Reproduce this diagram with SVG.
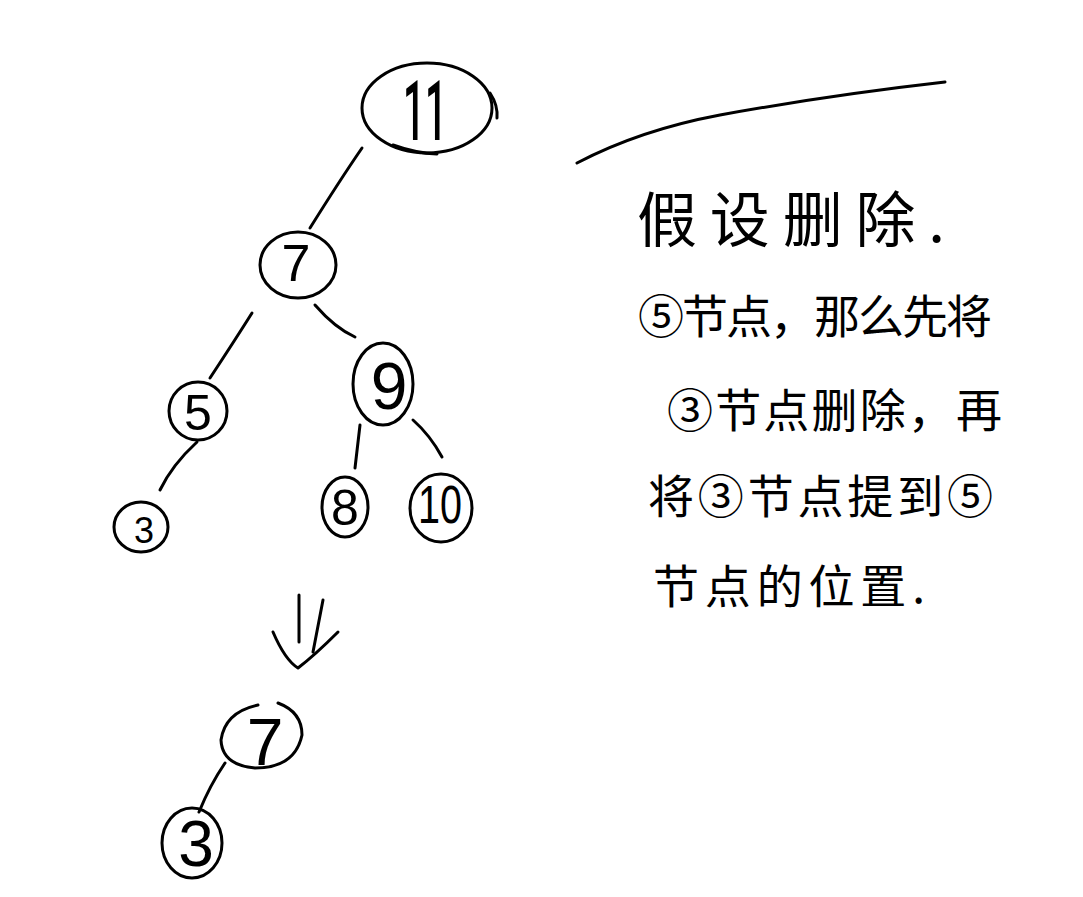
<svg xmlns="http://www.w3.org/2000/svg" width="1083" height="897" viewBox="0 0 1083 897">
<style>
.s{fill:none;stroke:#000;stroke-width:3;stroke-linecap:round;stroke-linejoin:round}
.d{font-family:"Liberation Sans",Arial,sans-serif;fill:#000;text-anchor:middle}
.t{font-family:"Noto Sans CJK SC","Noto Sans",sans-serif;fill:#000;font-size:46px}
</style>
<rect width="1083" height="897" fill="#fff"/>
<g id="connectors">
<path class="s" d="M362,148 Q340,180 310,228"/>
<path class="s" d="M252,313 Q235,340 210,378"/>
<path class="s" d="M315,305 Q335,328 355,337"/>
<path class="s" d="M197,442 Q172,465 160,490"/>
<path class="s" d="M360,425 Q357,450 355,468"/>
<path class="s" d="M413,420 Q430,435 442,457"/>
<path class="s" d="M225,763 Q210,785 199,812"/>
</g>
<g id="node-11">
<ellipse class="s" cx="427" cy="108" rx="65" ry="45"/>
<path class="s" d="M490,93 Q498,105 497,118"/>
<path class="s" d="M393,145 Q415,153 437,154"/>
<text class="d" x="425" y="140" style="font-family:Roboto,sans-serif;font-weight:500;font-size:84px" textLength="44" lengthAdjust="spacingAndGlyphs">11</text>
</g>
<g id="node-7">
<ellipse class="s" cx="298" cy="265" rx="38" ry="33"/>
<text class="d" x="296" y="281" font-size="52">7</text>
</g>
<g id="node-5">
<ellipse class="s" cx="198" cy="411" rx="29" ry="29"/>
<text class="d" x="198" y="430" font-size="50">5</text>
</g>
<g id="node-9">
<ellipse class="s" cx="383" cy="384" rx="30" ry="41"/>
<text class="d" x="389" y="409" font-size="66">9</text>
</g>
<g id="node-3">
<ellipse class="s" cx="141" cy="527" rx="27" ry="25"/>
<text class="d" x="144" y="543" font-size="36">3</text>
</g>
<g id="node-8">
<ellipse class="s" cx="345" cy="507" rx="23" ry="30"/>
<text class="d" x="345" y="525" font-size="50">8</text>
</g>
<g id="node-10">
<ellipse class="s" cx="441" cy="508" rx="31" ry="34"/>
<text class="d" x="440" y="523" font-size="54" textLength="44" lengthAdjust="spacingAndGlyphs">10</text>
</g>
<g id="arrow">
<path class="s" d="M299,595 L299,642"/>
<path class="s" d="M323,600 L313,652"/>
<path class="s" d="M273,632 Q285,660 298,668 Q315,655 338,632"/>
</g>
<g id="node-7b">
<path class="s" d="M258,705 Q225,712 221,740 Q222,765 255,768 Q295,768 302,735 Q302,712 278,703"/>
<text class="d" x="265" y="765" font-size="66">7</text>
</g>
<g id="node-3b">
<ellipse class="s" cx="192" cy="843" rx="30" ry="35"/>
<text class="d" x="196" y="866" font-size="64">3</text>
</g>
<g id="divider">
<path class="s" d="M577,163 Q640,130 720,115 Q830,95 945,82"/>
</g>
<g id="note">
<text class="t" x="637" y="242" textLength="308" style="font-size:60px">假设删除.</text>
<text class="t" x="638" y="333" textLength="354">⑤节点，那么先将</text>
<text class="t" x="667" y="427" textLength="335">③节点删除，再</text>
<text class="t" x="648" y="513" textLength="345">将③节点提到⑤</text>
<text class="t" x="653" y="603" textLength="272">节点的位置.</text>
</g>
</svg>
